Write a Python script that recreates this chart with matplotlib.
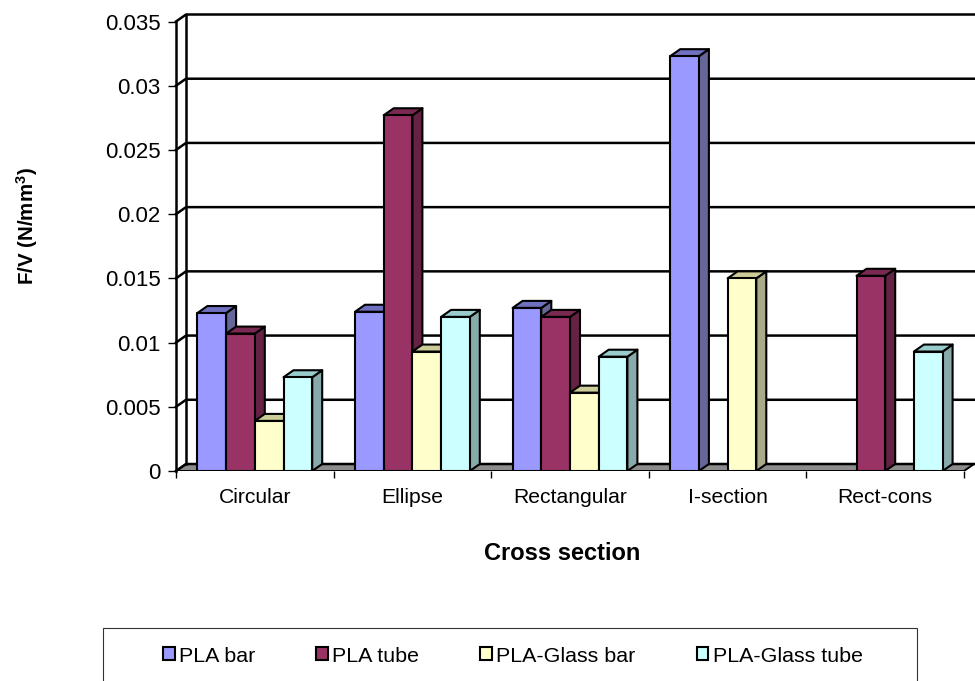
import matplotlib
matplotlib.use("Agg")
import matplotlib.pyplot as plt
from matplotlib.patches import Polygon, Rectangle, Patch
import numpy as np

plt.rcParams['font.family'] = ['Liberation Sans', 'DejaVu Sans']
plt.rcParams['mathtext.fontset'] = 'custom'
plt.rcParams['mathtext.bf'] = 'Liberation Sans:bold'

categories = ["Circular", "Ellipse", "Rectangular", "I-section", "Rect-cons"]
pla_bar = [0.0123, 0.0124, 0.0127, 0.0323, np.nan]
pla_tube = [0.0107, 0.0277, 0.0120, np.nan, 0.0152]
glass_bar = [0.0039, 0.0093, 0.0061, 0.0150, np.nan]
glass_tube = [0.0073, 0.0120, 0.0089, np.nan, 0.0093]
series_names = ["PLA bar", "PLA tube", "PLA-Glass bar", "PLA-Glass tube"]
y_ticks = [0, 0.005, 0.01, 0.015, 0.02, 0.025, 0.03, 0.035]
y_labels = ["0", "0.005", "0.01", "0.015", "0.02", "0.025", "0.03", "0.035"]

colors = ["#9999FF", "#993366", "#FFFFCC", "#CCFFFF"]
tops = ["#7070C0", "#7A2A52", "#CCCC99", "#99CCCC"]
sides = ["#666699", "#662244", "#AAAA88", "#88AAAA"]

W, H = 975, 681
fig = plt.figure(figsize=(W / 100, H / 100), dpi=100)

# axes run from the front-left corner to the back-right corner of the box
x0, x1 = 176, 975
y0, y1 = 471, 14
ax = fig.add_axes([x0 / W, 1 - y0 / H, (x1 - x0) / W, (y0 - y1) / H])
px_x = 157.6
px_y = (471 - 21.5) / 0.035
ax.set_xlim(0, (x1 - x0) / px_x)
ax.set_ylim(0, (y0 - y1) / px_y)
ax.patch.set_visible(False)
for s in ax.spines.values():
    s.set_visible(False)

dx = 10 / px_x
dy = 7 / px_y
n = len(categories)
top_y = y_ticks[-1]
wall = dict(color="black", lw=1.8, solid_capstyle="projecting", zorder=1)

# floor
ax.add_patch(Polygon([(0, 0), (n, 0), (n + dx, dy), (dx, dy)], closed=True,
                     fc="#8C8C8C", ec="black", lw=1.4, zorder=1))
# walls and gridlines
for t in y_ticks:
    ax.plot([0, dx, n + dx], [t, t + dy, t + dy], clip_on=False, **wall)
ax.plot([0, 0], [0, top_y], clip_on=False, **wall)
ax.plot([dx, dx], [dy, top_y + dy], clip_on=False, **wall)

# bars, left to right so that each front hides the side before it
bar_w = 28.7 / px_x
gap = (1 - 4 * bar_w) / 2
all_series = [pla_bar, pla_tube, glass_bar, glass_tube]
z = 3
for i in range(n):
    for k, vals in enumerate(all_series):
        v = vals[i]
        if np.isnan(v):
            continue
        l = i + gap + k * bar_w
        r = l + bar_w
        kw = dict(closed=True, ec="black", lw=1.5, joinstyle="round", zorder=z)
        ax.add_patch(Polygon([(r, 0), (r + dx, dy), (r + dx, v + dy), (r, v)], fc=sides[k], **kw))
        ax.add_patch(Polygon([(l, v), (r, v), (r + dx, v + dy), (l + dx, v + dy)], fc=tops[k], **kw))
        ax.add_patch(Polygon([(l, 0), (r, 0), (r, v), (l, v)], fc=colors[k], **kw))
        z += 1

ax.set_yticks(y_ticks)
ax.set_yticklabels(y_labels, fontsize=16)
ax.set_xticks(range(n + 1))
ax.set_xticklabels([])
ax.set_xticks(np.arange(n) + 0.5, minor=True)
ax.set_xticklabels(categories, minor=True, fontsize=15.2)
ax.tick_params(axis="y", length=6, width=1.0, pad=5)
ax.tick_params(axis="x", which="major", length=5, width=1.0)
ax.tick_params(axis="x", which="minor", length=0, pad=12)

fig.text(562 / W, 1 - 553 / H, "Cross section", fontsize=17, fontweight="bold",
         ha="center", va="center")
fig.text(27 / W, 1 - 226 / H, r"F/V (N/mm$\mathbf{^3}$)", fontsize=14.8, fontweight="bold",
         rotation=90, ha="center", va="center")

# legend box runs off the bottom of the figure
fig.add_artist(Rectangle((103 / W, -0.02), 814 / W, 1 - 628 / H + 0.02, transform=fig.transFigure,
                         fc="white", ec="#333333", lw=0.8))
handles = [Patch(fc=c, ec="black", lw=1.5) for c in colors]
leg = fig.legend(handles, series_names, ncol=4, loc="center left",
                 bbox_to_anchor=(163 / W, 1 - 656 / H), frameon=False, fontsize=15.4,
                 handlelength=0.55, handleheight=0.55, handletextpad=0.2,
                 columnspacing=2.85, borderpad=0, borderaxespad=0)

fig.savefig("out.png", dpi=100)
